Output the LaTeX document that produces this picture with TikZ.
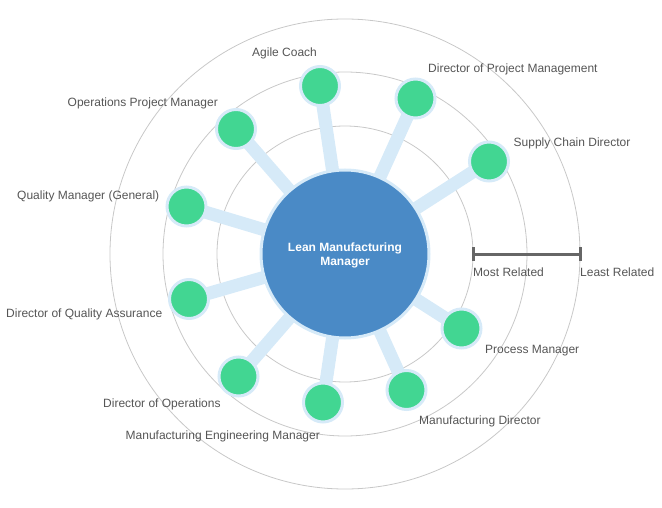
\documentclass[tikz,border=0pt]{standalone}
\usepackage{fontspec}
\setmainfont{Liberation Sans}
\definecolor{ringgray}{HTML}{C8C8C8}
\definecolor{spoke}{HTML}{D6EAF8}
\definecolor{hub}{HTML}{4A8AC6}
\definecolor{leaf}{HTML}{42D692}
\definecolor{labeltext}{HTML}{555555}
\definecolor{barcol}{HTML}{666666}
\tikzset{
  ring/.style={draw=ringgray, line width=0.8pt},
  spokeline/.style={draw=spoke, line width=13pt},
  hubnode/.style={circle, fill=hub, draw=spoke, line width=3pt, minimum size=168pt, inner sep=0pt,
    text=white, font=\bfseries\fontsize{12}{13.5}\selectfont},
  leafnode/.style={circle, fill=leaf, draw=spoke, line width=3pt, minimum size=39pt, inner sep=0pt},
  lab/.style={text=labeltext, font=\fontsize{12}{14}\selectfont, inner sep=0pt, anchor=west,
    text height=9pt, text depth=2.5pt, yshift=-1.5pt},
  barline/.style={draw=barcol, line width=3pt},
}
\begin{document}
\begin{tikzpicture}[x=1pt,y=-1pt]
\useasboundingbox (0,0) rectangle (662,508);
\coordinate (c) at (345,254);
\draw[ring] (c) circle[radius=128];
\draw[ring] (c) circle[radius=182];
\draw[ring] (c) circle[radius=235];
% leaf positions
\coordinate (pac) at (320,86);
\coordinate (pdpm) at (415.5,98.5);
\coordinate (pscd) at (489,161.5);
\coordinate (popm) at (236,129);
\coordinate (pqmg) at (186.5,206.5);
\coordinate (pdqa) at (189,299);
\coordinate (pdo) at (238.5,376.5);
\coordinate (pmem) at (323,402.5);
\coordinate (ppm) at (461.5,328.5);
\coordinate (pmd) at (406.5,390);
% spokes
\foreach \p in {pac,pdpm,pscd,popm,pqmg,pdqa,pdo,pmem,ppm,pmd}
  \draw[spokeline] (c) -- (\p);
\node[hubnode] (hub) at (c) {\raisebox{-5pt}[0pt][0pt]{\begin{tabular}{@{}c@{}}Lean Manufacturing\\Manager\end{tabular}}};
\node[leafnode] (ac) at (pac) {};
\node[leafnode] (dpm) at (pdpm) {};
\node[leafnode] (scd) at (pscd) {};
\node[leafnode] (opm) at (popm) {};
\node[leafnode] (qmg) at (pqmg) {};
\node[leafnode] (dqa) at (pdqa) {};
\node[leafnode] (do) at (pdo) {};
\node[leafnode] (mem) at (pmem) {};
\node[leafnode] (pm) at (ppm) {};
\node[leafnode] (md) at (pmd) {};
% labels
\node[lab] (lac) at (252,52) {Agile Coach};
\node[lab] (ldpm) at (428,67.5) {Director of Project Management};
\node[lab] (lscd) at (513.5,141.5) {Supply Chain Director};
\node[lab] (lopm) at (67.5,101.5) {Operations Project Manager};
\node[lab] (lqmg) at (17,195) {Quality Manager (General)};
\node[lab] (ldqa) at (6,312.5) {Director of Quality Assurance};
\node[lab] (ldo) at (103,403) {Director of Operations};
\node[lab] (lmem) at (125.5,435) {Manufacturing Engineering Manager};
\node[lab] (lpm) at (485,348.5) {Process Manager};
\node[lab] (lmd) at (419,420) {Manufacturing Director};
% scale bar
\coordinate (b1) at (473,254);
\coordinate (b2) at (580,254);
\draw[barline] (b1) -- (b2);
\draw[barline] ([yshift=-6.5pt]b1) -- ([yshift=6.5pt]b1);
\draw[barline] ([yshift=-6.5pt]b2) -- ([yshift=6.5pt]b2);
\node[lab] (lmost) at (473,271.5) {Most Related};
\node[lab] (lleast) at (580,271.5) {Least Related};
\end{tikzpicture}
\end{document}
